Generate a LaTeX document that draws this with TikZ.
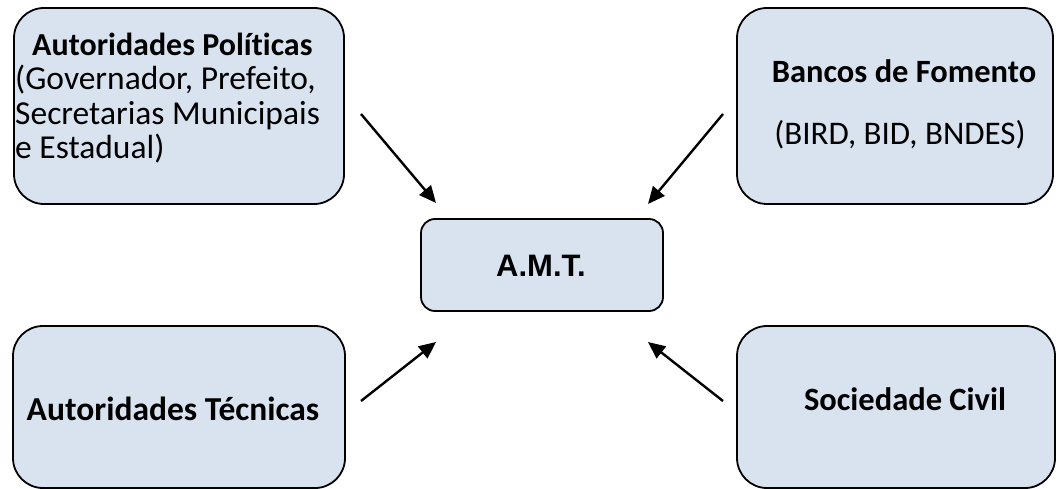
\documentclass[tikz,border=0pt]{standalone}
\usepackage{fontspec}
\setmainfont{Carlito}[Ligatures=NoCommon]
\newfontfamily\arialf{Liberation Sans}
\usetikzlibrary{arrows.meta}
\definecolor{boxfill}{HTML}{D9E3F0}
\begin{document}
\begin{tikzpicture}[x=1pt,y=-1pt,
  box/.style={draw=black, line width=1.8pt, fill=boxfill, rounded corners=30pt, inner sep=0pt},
  txt/.style={inner sep=0pt, font=\fontsize{33.5}{34}\selectfont},
  arr/.style={line width=2.4pt, -{Triangle[length=17pt,width=15pt]}}]
\useasboundingbox (0,0) rectangle (1056,489);
% boxes
\node[box, minimum width=330pt, minimum height=196pt] (tl) at (179,106) {};
\node[box, minimum width=316pt, minimum height=196pt] (tr) at (895,106) {};
\node[box, minimum width=332pt, minimum height=162pt] (bl) at (179,407) {};
\node[box, minimum width=318pt, minimum height=162pt] (br) at (896,407) {};
\node[box, rounded corners=14pt, minimum width=242pt, minimum height=92pt] (amt) at (542,265) {};
% texts
\node[txt, anchor=base west, font=\fontsize{32}{34}\selectfont] (tlh) at (32,56) {\bfseries Autoridades Políticas};
\node[txt, anchor=base west] (tl1) at (15,90) {(Governador, Prefeito,};
\node[txt, anchor=base west] (tl2) at (15,125) {Secretarias Municipais};
\node[txt, anchor=base west] (tl3) at (15,159) {e Estadual)};
\node[txt, anchor=base, font=\fontsize{32.5}{34}\selectfont] (trh) at (904,83) {\bfseries Bancos de Fomento};
\node[txt, anchor=base, font=\fontsize{33}{34}\selectfont] (tr1) at (900,145) {(BIRD, BID, BNDES)};
\node[txt, anchor=base, font=\fontsize{33.5}{34}\selectfont] (blt) at (173,420) {\bfseries Autoridades Técnicas};
\node[txt, anchor=base, font=\fontsize{32.5}{34}\selectfont] (brt) at (905,410) {\bfseries Sociedade Civil};
\node[inner sep=0pt, anchor=base, font=\arialf\fontsize{31}{32}\selectfont] (amtt) at (541,276) {\bfseries A.M.T.};
% arrows
\coordinate (a1s) at (361,114); \coordinate (a1e) at (436,203);
\coordinate (a2s) at (723,114); \coordinate (a2e) at (648,204);
\coordinate (a3s) at (361,401); \coordinate (a3e) at (436,342);
\coordinate (a4s) at (723,401); \coordinate (a4e) at (648,342);
\draw[arr] (a1s) -- (a1e);
\draw[arr] (a2s) -- (a2e);
\draw[arr] (a3s) -- (a3e);
\draw[arr] (a4s) -- (a4e);
\end{tikzpicture}
\end{document}
